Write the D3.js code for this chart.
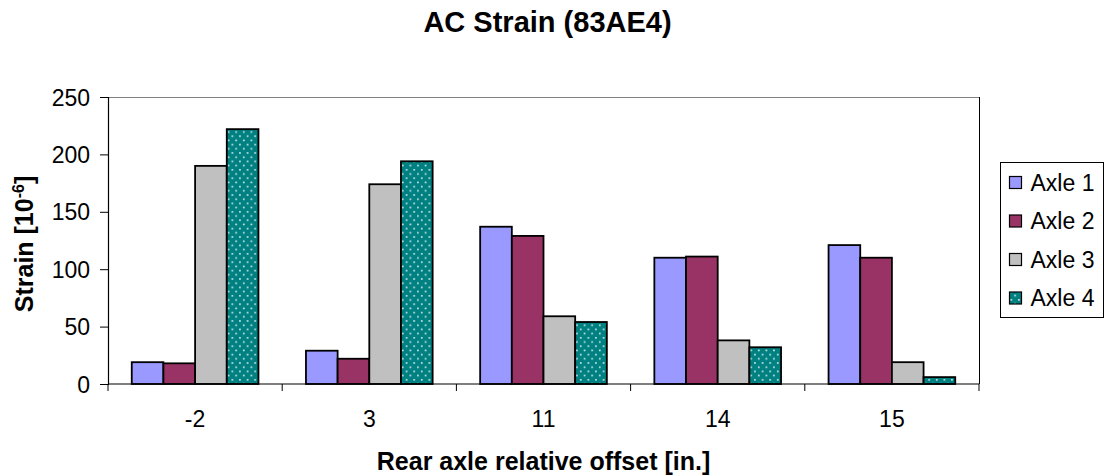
<!DOCTYPE html>
<html>
<head>
<meta charset="utf-8">
<script src="https://cdn.jsdelivr.net/npm/d3@7"></script>
<style>
  body { margin: 0; background: #fff; }
  text { font-family: "Liberation Sans", Arial, sans-serif; fill: #000; }
</style>
</head>
<body>
<div id="chart"></div>
<script>
// dados
const categories = ["-2", "3", "11", "14", "15"];
const seriesNames = ["Axle 1", "Axle 2", "Axle 3", "Axle 4"];
const axle1 = [19, 29, 137, 110, 121];
const axle2 = [18, 22, 129, 111, 110];
const axle3 = [190, 174, 59, 38, 19];
const axle4 = [222, 194, 54, 32, 6];
const yTicks = [0, 50, 100, 150, 200, 250];

const seriesValues = [axle1, axle2, axle3, axle4];
const colors = ["#9999FF", "#993366", "#C0C0C0", "url(#dots)"];

const W = 1112, H = 476;
const plot = { left: 108, right: 979, top: 97, bottom: 384 };

const svg = d3.select("#chart").append("svg")
    .attr("width", W)
    .attr("height", H);

// padrão pontilhado do Axle 4
const pat = svg.append("defs").append("pattern")
    .attr("id", "dots")
    .attr("patternUnits", "userSpaceOnUse")
    .attr("width", 7.6)
    .attr("height", 8.4);
pat.append("rect").attr("width", 7.6).attr("height", 8.4).attr("fill", "#008080");
pat.append("rect").attr("x", 1).attr("y", 1).attr("width", 1.6).attr("height", 1.6).attr("fill", "#d8f0f0");
pat.append("rect").attr("x", 4.8).attr("y", 5.2).attr("width", 1.6).attr("height", 1.6).attr("fill", "#d8f0f0");

// escalas
const x0 = d3.scaleBand()
    .domain(categories)
    .range([plot.left, plot.right])
    .paddingInner(0)
    .paddingOuter(0);

const barW = x0.bandwidth() / 5.5;

const y = d3.scaleLinear()
    .domain([0, 250])
    .range([plot.bottom, plot.top]);

// borda da área do gráfico
svg.append("line")
    .attr("x1", plot.left).attr("x2", plot.right)
    .attr("y1", plot.top + 0.5).attr("y2", plot.top + 0.5)
    .attr("stroke", "#808080");
svg.append("line")
    .attr("x1", plot.right + 0.5).attr("x2", plot.right + 0.5)
    .attr("y1", plot.top).attr("y2", plot.bottom)
    .attr("stroke", "#000");

// barras
const rows = categories.map((c, i) => ({ cat: c, vals: seriesValues.map(s => s[i]) }));

const groups = svg.selectAll(".grp")
    .data(rows)
    .enter()
    .append("g")
    .attr("transform", d => `translate(${x0(d.cat) + barW * 0.75},0)`);

groups.selectAll("rect")
    .data(d => d.vals)
    .enter()
    .append("rect")
    .attr("x", (d, i) => i * barW)
    .attr("y", d => y(d))
    .attr("width", barW)
    .attr("height", d => y(0) - y(d))
    .attr("fill", (d, i) => colors[i])
    .attr("stroke", "#000")
    .attr("stroke-width", 1.8);

// eixo Y
const yAxis = svg.append("g")
    .attr("transform", `translate(${plot.left},0)`)
    .call(d3.axisLeft(y).tickValues(yTicks).tickSize(8).tickPadding(10));
yAxis.select(".domain").attr("stroke", "#000").attr("stroke-width", 1.2);
yAxis.selectAll(".tick line").attr("stroke", "#000");
yAxis.selectAll("text").style("font-size", "23px").attr("dy", "0.35em");

// eixo X (ticks nas divisões das categorias)
svg.append("line")
    .attr("x1", plot.left).attr("x2", plot.right)
    .attr("y1", plot.bottom).attr("y2", plot.bottom)
    .attr("stroke", "#000").attr("stroke-width", 1.2);

const bounds = categories.map(c => x0(c)).concat([plot.right]);
svg.selectAll(".xtick")
    .data(bounds)
    .enter()
    .append("line")
    .attr("x1", d => d).attr("x2", d => d)
    .attr("y1", plot.bottom).attr("y2", plot.bottom + 7)
    .attr("stroke", "#000");

svg.selectAll(".xlabel")
    .data(categories)
    .enter()
    .append("text")
    .attr("x", d => x0(d) + x0.bandwidth() / 2)
    .attr("y", 427)
    .attr("text-anchor", "middle")
    .style("font-size", "23px")
    .text(d => d);

// títulos
svg.append("text")
    .attr("x", 547.5)
    .attr("y", 32)
    .attr("text-anchor", "middle")
    .style("font-size", "29px")
    .style("font-weight", "bold")
    .text("AC Strain (83AE4)");

svg.append("text")
    .attr("x", (plot.left + plot.right) / 2)
    .attr("y", 470)
    .attr("text-anchor", "middle")
    .style("font-size", "25px")
    .style("font-weight", "bold")
    .text("Rear axle relative offset [in.]");

const yt = svg.append("text")
    .attr("transform", `translate(33,244) rotate(-90)`)
    .attr("text-anchor", "middle")
    .style("font-size", "25px")
    .style("font-weight", "bold");
yt.append("tspan").text("Strain [10");
yt.append("tspan").attr("dy", -9).style("font-size", "16px").text("-6");
yt.append("tspan").attr("dy", 9).text("]");

// legenda
const legend = svg.append("g").attr("transform", "translate(1000.5,162.5)");
legend.append("rect")
    .attr("width", 103).attr("height", 155)
    .attr("fill", "#fff").attr("stroke", "#000");

const items = legend.selectAll(".item")
    .data(seriesNames)
    .enter()
    .append("g")
    .attr("transform", (d, i) => `translate(9,${20 + i * 38.5})`);

items.append("rect")
    .attr("x", 0).attr("y", -6)
    .attr("width", 12).attr("height", 12)
    .attr("fill", (d, i) => colors[i])
    .attr("stroke", "#000")
    .attr("stroke-width", 1.2);

items.append("text")
    .attr("x", 21)
    .attr("dy", "0.35em")
    .style("font-size", "23px")
    .text(d => d);
</script>
</body>
</html>
